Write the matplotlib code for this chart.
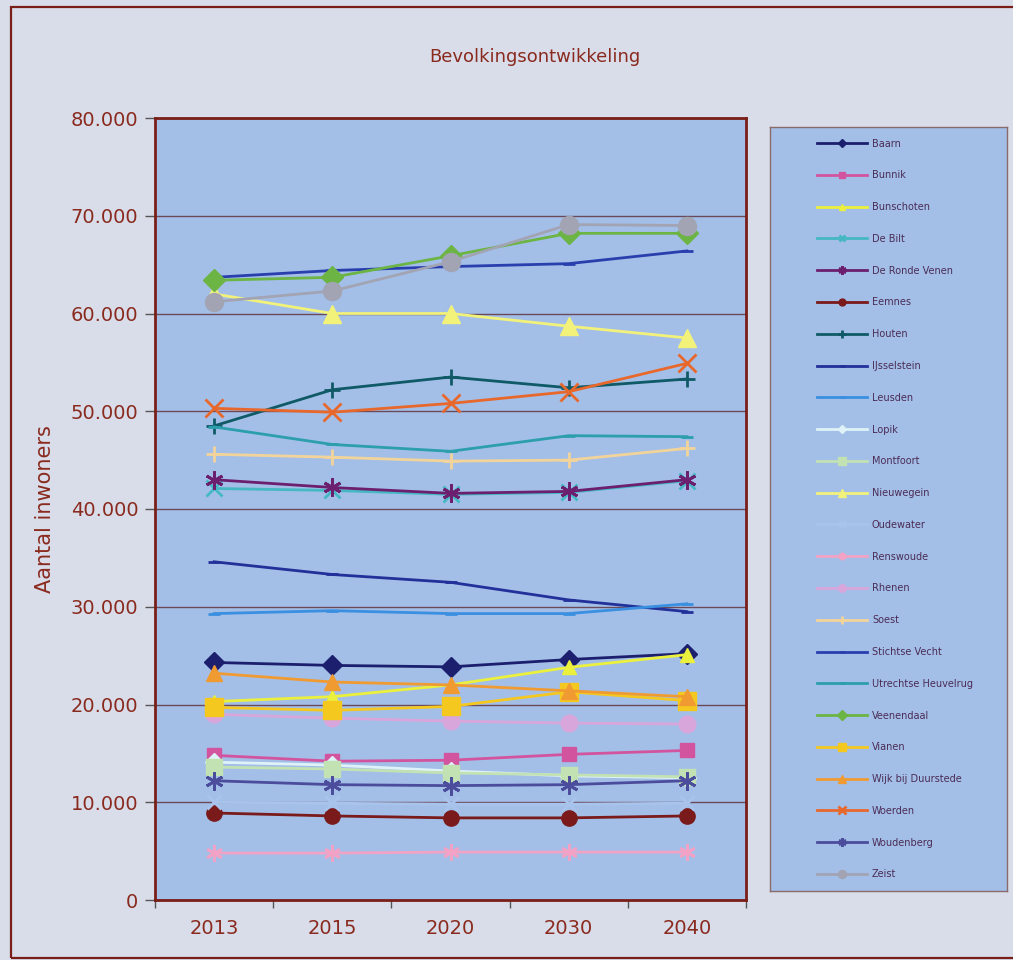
import matplotlib
matplotlib.use("Agg")
import matplotlib.pyplot as plt
from matplotlib.patches import Rectangle
from matplotlib.ticker import FuncFormatter, MultipleLocator

years = ["2013", "2015", "2020", "2030", "2040"]

baarn = [24300, 24000, 23850, 24600, 25200]
bunnik = [14800, 14200, 14300, 14900, 15300]
bunschoten = [20300, 20800, 22000, 23800, 25100]
de_bilt = [42100, 41900, 41500, 41700, 42900]
de_ronde_venen = [43000, 42200, 41600, 41800, 43000]
eemnes = [8900, 8600, 8400, 8400, 8600]
houten = [48500, 52200, 53500, 52400, 53300]
ijsselstein = [34600, 33300, 32500, 30700, 29500]
leusden = [29300, 29600, 29300, 29300, 30300]
lopik = [14100, 13800, 13200, 12700, 12500]
montfoort = [13600, 13400, 13000, 12800, 12600]
nieuwegein = [62000, 60000, 60000, 58700, 57500]
oudewater = [10000, 9900, 9800, 9800, 9900]
renswoude = [4800, 4800, 4900, 4900, 4900]
rhenen = [19000, 18600, 18300, 18100, 18000]
soest = [45600, 45300, 44900, 45000, 46200]
stichtse_vecht = [63700, 64400, 64800, 65100, 66400]
utrechtse_heuvelrug = [48400, 46600, 45900, 47500, 47400]
veenendaal = [63400, 63700, 65900, 68200, 68200]
vianen = [19700, 19400, 19800, 21300, 20400]
wijk_bij_duurstede = [23200, 22300, 22000, 21400, 20800]
woerden = [50300, 49900, 50800, 52000, 54900]
woudenberg = [12200, 11800, 11700, 11800, 12200]
zeist = [61200, 62300, 65300, 69100, 69000]

names = ["Baarn", "Bunnik", "Bunschoten", "De Bilt", "De Ronde Venen", "Eemnes",
         "Houten", "IJsselstein", "Leusden", "Lopik", "Montfoort", "Nieuwegein",
         "Oudewater", "Renswoude", "Rhenen", "Soest", "Stichtse Vecht",
         "Utrechtse Heuvelrug", "Veenendaal", "Vianen", "Wijk bij Duurstede",
         "Woerden", "Woudenberg", "Zeist"]
series = [baarn, bunnik, bunschoten, de_bilt, de_ronde_venen, eemnes, houten,
          ijsselstein, leusden, lopik, montfoort, nieuwegein, oudewater, renswoude,
          rhenen, soest, stichtse_vecht, utrechtse_heuvelrug, veenendaal, vianen,
          wijk_bij_duurstede, woerden, woudenberg, zeist]

colors = ["#1c1f6e", "#d2549e", "#eaf03c", "#45b8c4", "#6c1f6e", "#7a1a1a",
          "#0f5a66", "#22309a", "#3a8fe0", "#dff2f8", "#c2e2b4", "#f2f27a",
          "#a9c4ec", "#f2a2c4", "#d9a6dc", "#f2d49a", "#2a3fae", "#2c9eac",
          "#6cb444", "#f5c820", "#f09a32", "#e8682c", "#4c4c9c", "#a2a4b4"]
STAR = (6, 2, 0)
markers = ["D", "s", "^", "x", STAR, "o", "+", "_", "_",
           "D", "s", "^", "x", STAR, "o", "+", "_", "_",
           "D", "s", "^", "x", STAR, "o"]
msizes = [10, 10, 10, 11, 13, 11, 12, 8, 8,
          9, 12, 13, 10, 12, 12, 12, 8, 8,
          11, 13, 12, 13, 13, 13]

text_col = "#8a2a1e"
plot_bg = "#a3bfe8"
fig_bg = "#d9dde9"
border = "#7a1e18"

fig = plt.figure(figsize=(10.13, 9.6), dpi=100)
fig.patch.set_facecolor(fig_bg)
fig.patches.append(Rectangle((11 / 1013, 1 - 958 / 960), (1013 - 11) / 1013 + 0.01,
                             (958 - 7) / 960, transform=fig.transFigure,
                             fill=False, edgecolor=border, lw=1.6))

ax = fig.add_axes([155 / 1013, 1 - 900 / 960, (746 - 155) / 1013, (900 - 118) / 960])
ax.set_facecolor(plot_bg)

x = list(range(len(years)))
handles = []
for name, vals, c, m, ms in zip(names, series, colors, markers, msizes):
    lined = m in ("x", "+", "_") or isinstance(m, tuple)
    h, = ax.plot(x, vals, color=c, marker=m, markersize=ms, lw=2.0,
                 markeredgewidth=2 if lined else 1,
                 markeredgecolor=c, label=name)
    handles.append(h)

ax.set_xlim(-0.5, len(years) - 0.5)
ax.set_ylim(0, 80000)
ax.yaxis.set_major_locator(MultipleLocator(10000))
ax.yaxis.set_major_formatter(FuncFormatter(lambda v, p: f"{int(v):,}".replace(",", ".")))
ax.set_xticks(x)
ax.set_xticklabels(years)
ax.set_xticks([i - 0.5 for i in range(len(years) + 1)], minor=True)
ax.tick_params(axis="x", which="major", length=0, pad=14, labelsize=14, labelcolor=text_col)
ax.tick_params(axis="x", which="minor", length=6, width=1, color="#555555")
ax.tick_params(axis="y", length=7, width=1, color="#555555", labelsize=14,
               labelcolor=text_col, pad=5)
ax.grid(axis="y", color="#6a4a5a", lw=1)
ax.set_axisbelow(True)
for s in ax.spines.values():
    s.set_color(border)
    s.set_linewidth(2)

ax.set_ylabel("Aantal inwoners", fontsize=15, color=text_col, labelpad=11)
fig.text(535 / 1013, 1 - 57 / 960, "Bevolkingsontwikkeling", ha="center", va="center",
         fontsize=13, color=text_col)

# legend panel
lax = fig.add_axes([770 / 1013, 1 - 891 / 960, (1007 - 770) / 1013, (891 - 127) / 960])
lax.set_facecolor(plot_bg)
lax.set_xticks([])
lax.set_yticks([])
for s in lax.spines.values():
    s.set_color("#8a6a6a")
    s.set_linewidth(1)
leg = lax.legend(handles, names, loc="center left", bbox_to_anchor=(0.18, 0.5),
                 frameon=False, fontsize=7, labelspacing=2.24, handlelength=5.2,
                 handletextpad=0.5, markerscale=0.45, borderaxespad=0)
for t in leg.get_texts():
    t.set_color("#4a2c55")

fig.savefig("out.png", dpi=100, facecolor=fig.get_facecolor())
